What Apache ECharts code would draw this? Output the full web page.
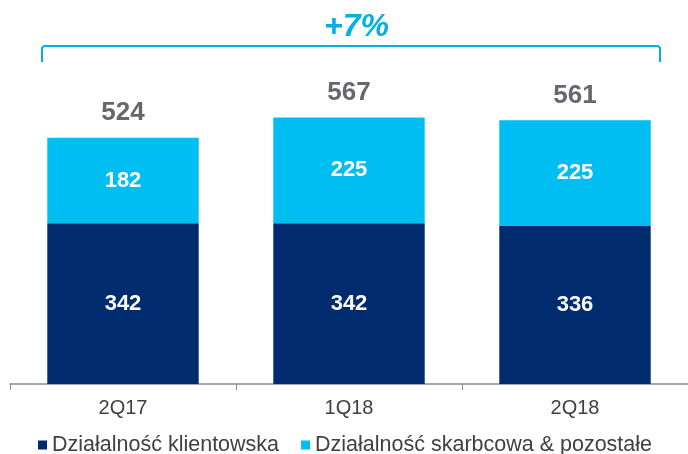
<!DOCTYPE html>
<html>
<head>
<meta charset="utf-8">
<script src="https://cdn.jsdelivr.net/npm/echarts@6/dist/echarts.min.js"></script>
<style>
  html, body { margin: 0; padding: 0; background: #fff; }
  #chart { width: 688px; height: 454px; }
</style>
</head>
<body>
<div id="chart"></div>
<script>
var categories = ['2Q17', '1Q18', '2Q18'];
var klientowska = [342, 342, 336];
var skarbcowa = [182, 225, 225];
var totals = [524, 567, 561];
var seriesNames = ['Działalność klientowska', 'Działalność skarbcowa & pozostałe'];
var growthText = '+7%';

var navy = '#002b6f';
var cyan = '#00bdf2';
var font = 'Liberation Sans, Arial, sans-serif';

var myChart = echarts.init(document.getElementById('chart'));
var option = {
  animation: false,
  title: {
    text: growthText,
    left: 319,
    top: 6,
    textStyle: { color: '#00b0e6', fontSize: 32, fontWeight: 'bold', fontStyle: 'italic', fontFamily: font }
  },
  graphic: [{
    type: 'polyline',
    shape: { points: [[42, 62], [42, 48], [44, 46], [658, 46], [660, 48], [660, 62]] },
    style: { stroke: '#00b0e6', lineWidth: 2, fill: null }
  }],
  legend: {
    data: seriesNames,
    left: 33,
    top: 429,
    icon: 'rect',
    itemWidth: 9,
    itemHeight: 9,
    itemGap: 22,
    itemStyle: { borderWidth: 0 },
    textStyle: { color: '#404040', fontSize: 21.5, fontFamily: font }
  },
  grid: { left: 10, top: 102, width: 684, height: 282 },
  xAxis: {
    type: 'category',
    data: categories,
    axisLine: { lineStyle: { color: '#8c8c8c', width: 1.5 } },
    axisTick: { show: true, length: 6, lineStyle: { color: '#8c8c8c' } },
    axisLabel: { color: '#404040', fontSize: 20, fontFamily: font, margin: 14 }
  },
  yAxis: { type: 'value', min: 0, max: 600, show: false, splitLine: { show: false } },
  series: [{
    name: seriesNames[0],
    type: 'bar',
    stack: 'a',
    barWidth: '67%',
    itemStyle: { color: navy },
    label: { show: true, position: 'inside', color: '#fff', fontSize: 22, fontWeight: 'bold', fontFamily: font },
    data: klientowska
  }, {
    name: seriesNames[1],
    type: 'bar',
    stack: 'a',
    itemStyle: { color: cyan },
    label: { show: true, position: 'inside', color: '#fff', fontSize: 22, fontWeight: 'bold', fontFamily: font },
    data: skarbcowa
  }, {
    type: 'scatter',
    symbolSize: 0,
    silent: true,
    label: { show: true, position: 'top', distance: 12, color: '#404048', fontSize: 26, fontWeight: 'bold', fontFamily: font },
    data: totals
  }]
};
myChart.setOption(option);
</script>
</body>
</html>
